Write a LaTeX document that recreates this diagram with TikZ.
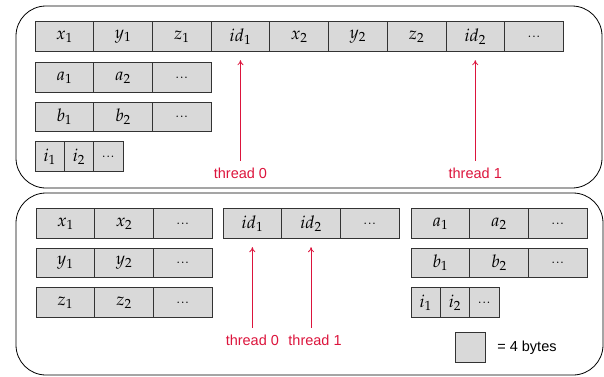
\documentclass[tikz,border=0pt]{standalone}
\usepackage{mathpazo}
\usepackage{fontspec}
\setsansfont{Liberation Sans}
\usetikzlibrary{arrows.meta,positioning}
\definecolor{threadred}{RGB}{220,20,60}
\tikzset{
	cell/.style={
			draw=black!80, fill=black!15, line width=0.8pt,
			minimum width=58.7pt, minimum height=29.3pt,
			inner sep=0pt, outer sep=0pt,
			font=\fontsize{17.5}{19}\selectfont
		},
	halfcell/.style={cell, minimum width=29.3pt},
	panel/.style={draw=black, line width=0.8pt, rounded corners=30pt},
	thread/.style={text=threadred, inner sep=0pt, font=\sffamily\fontsize{14.5}{17}\selectfont},
	ptr/.style={-{To[length=5pt,width=6pt]}, draw=threadred, line width=0.8pt, shorten <=7pt, shorten >=9pt},
	legend/.style={inner sep=0pt, font=\sffamily\fontsize{14.5}{17}\selectfont}
}

\begin{document}
\begin{tikzpicture}[x=1pt, y=1pt]
			\useasboundingbox (0,0) rectangle (604,376);

			% Two panels
			\draw[panel] (16,188) rectangle (602,370);
			\draw[panel] (16,1) rectangle (603,183);

			% Top panel: one record after the other
			\node[cell, anchor=west] (tx1) at (35,339.5) {$x_1$};
			\node[cell, right=0pt of tx1] (ty1) {$y_1$};
			\node[cell, right=0pt of ty1] (tz1) {$z_1$};
			\node[cell, right=0pt of tz1] (tid1) {$id_1$};
			\node[cell, right=0pt of tid1] (tx2) {$x_2$};
			\node[cell, right=0pt of tx2] (ty2) {$y_2$};
			\node[cell, right=0pt of ty2] (tz2) {$z_2$};
			\node[cell, right=0pt of tz2] (tid2) {$id_2$};
			\node[cell, right=0pt of tid2] (tdots) {...};

			\node[cell, anchor=west] (ta1) at (35,298.5) {$a_1$};
			\node[cell, right=0pt of ta1] (ta2) {$a_2$};
			\node[cell, right=0pt of ta2] (tadots) {...};

			\node[cell, anchor=west] (tb1) at (35,259) {$b_1$};
			\node[cell, right=0pt of tb1] (tb2) {$b_2$};
			\node[cell, right=0pt of tb2] (tbdots) {...};

			\node[halfcell, anchor=west] (ti1) at (35,219.5) {$i_1$};
			\node[halfcell, right=0pt of ti1] (ti2) {$i_2$};
			\node[halfcell, right=0pt of ti2] (tidots) {...};

			\node[thread, below=116.5pt of tid1] (tthread0) {thread 0};
			\node[thread, below=116.5pt of tid2] (tthread1) {thread 1};
			\draw[ptr] (tthread0) -- (tid1);
			\draw[ptr] (tthread1) -- (tid2);

			% Bottom panel: one array per field
			\node[cell, anchor=west] (bx1) at (36,152.5) {$x_1$};
			\node[cell, right=0pt of bx1] (bx2) {$x_2$};
			\node[cell, right=0pt of bx2] (bxdots) {...};

			\node[cell, anchor=west] (by1) at (36,113) {$y_1$};
			\node[cell, right=0pt of by1] (by2) {$y_2$};
			\node[cell, right=0pt of by2] (bydots) {...};

			\node[cell, anchor=west] (bz1) at (36,73.5) {$z_1$};
			\node[cell, right=0pt of bz1] (bz2) {$z_2$};
			\node[cell, right=0pt of bz2] (bzdots) {...};

			\node[cell, anchor=west] (bid1) at (223,152.5) {$id_1$};
			\node[cell, right=0pt of bid1] (bid2) {$id_2$};
			\node[cell, right=0pt of bid2] (biddots) {...};

			\node[cell, anchor=west] (ba1) at (411,152.5) {$a_1$};
			\node[cell, right=0pt of ba1] (ba2) {$a_2$};
			\node[cell, right=0pt of ba2] (badots) {...};

			\node[cell, anchor=west] (bb1) at (411,113) {$b_1$};
			\node[cell, right=0pt of bb1] (bb2) {$b_2$};
			\node[cell, right=0pt of bb2] (bbdots) {...};

			\node[halfcell, anchor=west] (bi1) at (411,73.5) {$i_1$};
			\node[halfcell, right=0pt of bi1] (bi2) {$i_2$};
			\node[halfcell, right=0pt of bi2] (bidots) {...};

			\node[thread, below=96.8pt of bid1] (bthread0) {thread 0};
			\node[thread, below=96.8pt of bid2, xshift=4pt] (bthread1) {thread 1};
			\draw[ptr] (bthread0) -- (bid1);
			\draw[ptr] (bthread1.north -| bid2) -- (bid2);

			% Legend
			\node[halfcell] (unit) at (470.5,28.5) {};
			\node[legend, right=12pt of unit] (unitlabel) {= 4 bytes};
		\end{tikzpicture}
\end{document}
